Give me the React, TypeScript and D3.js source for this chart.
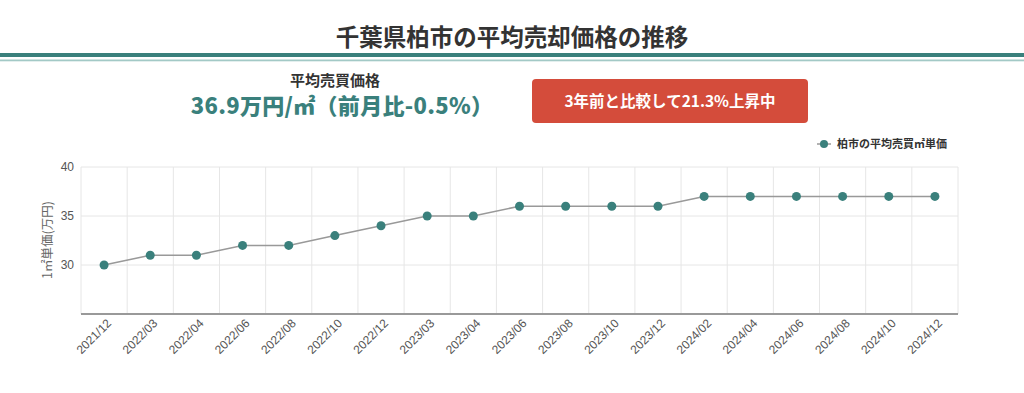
import React, { useEffect, useRef } from 'react';
import * as d3 from 'd3';

const months = [
  '2021/12', '2022/03', '2022/04', '2022/06', '2022/08', '2022/10', '2022/12',
  '2023/03', '2023/04', '2023/06', '2023/08', '2023/10', '2023/12',
  '2024/02', '2024/04', '2024/06', '2024/08', '2024/10', '2024/12',
];
const unitPrices = [30, 31, 31, 32, 32, 33, 34, 35, 35, 36, 36, 36, 36, 37, 37, 37, 37, 37, 37];
const yTicks = [30, 35, 40];

const title = '千葉県柏市の平均売却価格の推移';
const summaryLabel = '平均売買価格';
const summaryValue = '36.9万円/㎡（前月比-0.5%）';
const badgeText = '3年前と比較して21.3%上昇中';
const seriesName = '柏市の平均売買㎡単価';
const yLabel = '1㎡単価(万円)';

const FONT = '"Noto Sans CJK JP", "Noto Sans", sans-serif';
const TEAL = '#3a807c';

const App = () => {
  const ref = useRef<SVGSVGElement>(null);

  useEffect(() => {
    if (!ref.current) return;
    const svg = d3.select(ref.current);
    svg.selectAll('*').remove();

    const W = 1024;
    const margin = { top: 167, right: 66, bottom: 79, left: 81 };
    const width = W - margin.left - margin.right;
    const height = 393 - margin.top - margin.bottom;

    // header
    svg.append('text')
      .attr('x', 512).attr('y', 46)
      .attr('text-anchor', 'middle')
      .attr('font-size', 23.5).attr('font-weight', 700)
      .attr('fill', '#333')
      .text(title);
    svg.append('rect').attr('x', 0).attr('y', 53).attr('width', W).attr('height', 4).attr('fill', TEAL);
    svg.append('rect').attr('x', 0).attr('y', 59.5).attr('width', W).attr('height', 1.8).attr('fill', '#a3c9c6');

    svg.append('text')
      .attr('x', 335).attr('y', 86)
      .attr('text-anchor', 'middle')
      .attr('font-size', 15).attr('font-weight', 700)
      .attr('fill', '#333')
      .text(summaryLabel);
    svg.append('text')
      .attr('x', 342).attr('y', 114)
      .attr('text-anchor', 'middle')
      .attr('font-size', 22).attr('font-weight', 900)
      .attr('letter-spacing', 0.3)
      .attr('fill', TEAL)
      .text(summaryValue);

    svg.append('rect')
      .attr('x', 532).attr('y', 79).attr('width', 276).attr('height', 44)
      .attr('rx', 4).attr('fill', '#d44c3b');
    svg.append('text')
      .attr('x', 670).attr('y', 107)
      .attr('text-anchor', 'middle')
      .attr('font-size', 15.5).attr('font-weight', 700)
      .attr('fill', '#fff')
      .text(badgeText);

    // legend
    const lg = svg.append('g').attr('transform', 'translate(817,144)');
    lg.append('line').attr('x1', 0).attr('x2', 14).attr('y1', 0).attr('y2', 0)
      .attr('stroke', '#999').attr('stroke-width', 1.5);
    lg.append('circle').attr('cx', 7).attr('cy', 0).attr('r', 4).attr('fill', TEAL);
    lg.append('text').attr('x', 20).attr('y', 4)
      .attr('font-size', 11).attr('font-weight', 700).attr('fill', '#333')
      .text(seriesName);

    const x = d3.scaleBand<string>().domain(months).range([0, width]);
    const y = d3.scaleLinear().domain([25, 40]).range([height, 0]);

    const g = svg.append('g').attr('transform', `translate(${margin.left},${margin.top})`);

    // grid
    g.selectAll('.hgrid').data(yTicks).enter().append('line')
      .attr('x1', 0).attr('x2', width)
      .attr('y1', d => y(d)).attr('y2', d => y(d))
      .attr('stroke', '#e6e6e6');
    const bounds = months.map(m => x(m) as number).concat([width]);
    g.selectAll('.vgrid').data(bounds).enter().append('line')
      .attr('x1', d => d).attr('x2', d => d)
      .attr('y1', 0).attr('y2', height)
      .attr('stroke', '#e6e6e6');

    g.append('line').attr('x1', 0).attr('x2', width).attr('y1', height).attr('y2', height)
      .attr('stroke', '#999').attr('stroke-width', 2);

    // y ticks
    g.selectAll('.ytick').data(yTicks).enter().append('text')
      .attr('x', -7).attr('y', d => y(d) + 4)
      .attr('text-anchor', 'end')
      .attr('font-size', 12).attr('fill', '#555')
      .attr('font-family', '"Liberation Sans", Arial, sans-serif')
      .text(d => d);

    svg.append('text')
      .attr('transform', `translate(52,${margin.top + 73}) rotate(-90)`)
      .attr('text-anchor', 'middle')
      .attr('font-size', 12.5).attr('fill', '#666')
      .text(yLabel);

    // x ticks
    g.selectAll('.xtick').data(months).enter().append('text')
      .attr('transform', d => `translate(${(x(d) as number) + x.bandwidth() / 2 + 8},${height + 10}) rotate(-45)`)
      .attr('text-anchor', 'end')
      .attr('font-size', 12).attr('fill', '#555')
      .attr('font-family', '"Liberation Sans", Arial, sans-serif')
      .text(d => d);

    const cx = (d: string) => (x(d) as number) + x.bandwidth() / 2;
    const line = d3.line<number>()
      .x((_, i) => cx(months[i]))
      .y(d => y(d));
    g.append('path').datum(unitPrices)
      .attr('d', line)
      .attr('fill', 'none').attr('stroke', '#999').attr('stroke-width', 1.5);

    g.selectAll('.dot').data(unitPrices).enter().append('circle')
      .attr('cx', (_, i) => cx(months[i]))
      .attr('cy', d => y(d))
      .attr('r', 4.5)
      .attr('fill', TEAL);
  }, []);

  return (
    <svg
      ref={ref}
      width={1024}
      height={393}
      style={{ position: 'absolute', left: 0, top: 0, fontFamily: FONT }}
    />
  );
};

export default App;
